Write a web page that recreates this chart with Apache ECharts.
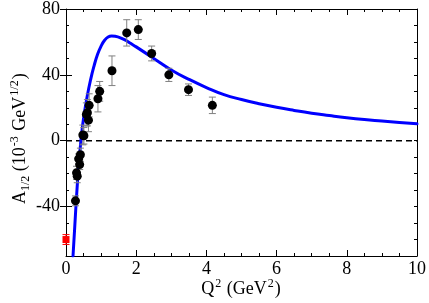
<!DOCTYPE html>
<html>
<head>
<meta charset="utf-8">
<script src="https://cdn.jsdelivr.net/npm/echarts@6/dist/echarts.min.js"></script>
<style>html,body{margin:0;padding:0;background:#fff}#c{width:429px;height:303px}</style>
</head>
<body>
<div id="c"></div>
<script>
// Data (Q^2 in GeV^2, A_1/2 in 10^-3 GeV^1/2)
const dataQ2 = [0.27,0.30,0.32,0.36,0.39,0.41,0.48,0.51,0.58,0.61,0.64,0.66,0.91,0.96,1.31,1.73,2.06,2.44,2.93,3.49,4.17];
const dataA  = [-36.5,-19.5,-21.5,-11,-14.5,-8.5,3.5,3,16,17,12.5,21.5,25.5,30,42.5,65.5,67.5,53,40,31,21.5];
const dataErr= [3,4,4,3,3,4,6,5,7,8,7,7,8,6,9,8,6,4.5,4,3.5,5];
const photoQ2 = [0];
const photoA  = [-60];
const photoErr= [3];
const curveQ2 = [0.20,0.25,0.30,0.35,0.40,0.45,0.50,0.60,0.70,0.80,0.90,1.00,1.10,1.20,1.30,1.40,1.55,1.70,1.85,2.00,2.50,3.00,3.50,4.00,4.50,5.00,5.50,6.00,6.50,7.00,7.50,8.00,8.50,9.00,9.50,10.0];
const curveA  = [-70,-52,-34,-18.5,-5.5,5,13.5,26.5,37,45.5,52.5,57.5,61,63,63.6,63.4,62.5,61,59,57,50,43,37.3,32.3,28,25,22.5,20.3,18.4,16.7,15.3,14,12.9,12,11.1,10.3];
const xTicks = [0,2,4,6,8,10];
const yTicks = [-40,0,40,80];

const font = 'Liberation Serif';
const chart = echarts.init(document.getElementById('c'), null, {renderer:'canvas'});

function errItem(color, capHalf){
  return function(params, api){
    const x = api.value(0), y = api.value(1), e = api.value(2);
    const p1 = api.coord([x, y+e]), p2 = api.coord([x, y-e]);
    const st = {stroke: color, lineWidth: 1};
    return {type:'group', children:[
      {type:'line', shape:{x1:p1[0],y1:p1[1],x2:p2[0],y2:p2[1]}, style:st},
      {type:'line', shape:{x1:p1[0]-capHalf,y1:p1[1],x2:p1[0]+capHalf,y2:p1[1]}, style:st},
      {type:'line', shape:{x1:p2[0]-capHalf,y1:p2[1],x2:p2[0]+capHalf,y2:p2[1]}, style:st}
    ]};
  };
}

const axisCommon = {
  axisLine:{show:true, onZero:false, lineStyle:{color:'#000', width:1}},
  splitLine:{show:false}
};

chart.setOption({
  animation:false,
  grid:{left:66, right:11, top:7, bottom:47, containLabel:false},
  xAxis:[
    Object.assign({}, axisCommon, {
      type:'value', min:0, max:10, interval:2, position:'bottom',
      axisTick:{inside:true, length:6, lineStyle:{color:'#000'}},
      minorTick:{show:true, splitNumber:4, length:3, lineStyle:{color:'#000'}},
      axisLabel:{color:'#000', fontFamily:font, fontSize:18, margin:4, customValues: xTicks}
    }),
    Object.assign({}, axisCommon, {
      type:'value', min:0, max:10, interval:2, position:'top',
      axisTick:{inside:true, length:6, lineStyle:{color:'#000'}},
      minorTick:{show:true, splitNumber:4, length:3, lineStyle:{color:'#000'}},
      axisLabel:{show:false}
    })
  ],
  yAxis:[
    Object.assign({}, axisCommon, {
      type:'value', min:-70, max:80, interval:10, position:'left',
      axisTick:{inside:true, length:3, lineStyle:{color:'#000'}},
      axisLabel:{color:'#000', fontFamily:font, fontSize:18, margin:6, customValues: yTicks}
    }),
    Object.assign({}, axisCommon, {
      type:'value', min:-70, max:80, interval:10, position:'right',
      axisTick:{inside:true, length:3, lineStyle:{color:'#000'}},
      axisLabel:{show:false}
    }),
    {
      type:'value', min:-70, max:80, position:'left', axisLine:{show:false}, splitLine:{show:false},
      axisTick:{show:true, inside:true, length:6, customValues: yTicks, lineStyle:{color:'#000'}},
      axisLabel:{show:false}
    },
    {
      type:'value', min:-70, max:80, position:'right', axisLine:{show:false}, splitLine:{show:false},
      axisTick:{show:true, inside:true, length:6, customValues: yTicks, lineStyle:{color:'#000'}},
      axisLabel:{show:false}
    }
  ],
  graphic:[
    {type:'text', x:241, y:278, style:{
      text:'{a|Q}{s|2}{a| (GeV}{s|2}{a|)}', fill:'#000', textAlign:'center',
      rich:{a:{fontFamily:font, fontSize:18, verticalAlign:'bottom', fill:'#000'},
            s:{fontFamily:font, fontSize:12, verticalAlign:'bottom', padding:[0,1,8,1], fill:'#000'}}
    }},
    {type:'text', x:9, y:204, rotation:Math.PI/2, style:{
      text:'{a|A}{b|1/2}{a| (10}{s|-3}{a| GeV}{s|1/2}{a|)}', fill:'#000',
      rich:{a:{fontFamily:font, fontSize:18, verticalAlign:'bottom', fill:'#000'},
            b:{fontFamily:font, fontSize:12, verticalAlign:'bottom', padding:[0,0,-3,0], fill:'#000'},
            s:{fontFamily:font, fontSize:12, verticalAlign:'bottom', padding:[0,1,8,1], fill:'#000'}}
    }}
  ],
  series:[
    {
      type:'line', xAxisIndex:0, yAxisIndex:0, data:[[0,0],[10,0]], symbol:'none', silent:true,
      lineStyle:{color:'#000', width:1.5, type:[6,4]}, z:1
    },
    {
      type:'line', xAxisIndex:0, yAxisIndex:0, smooth:0.5, symbol:'none', clip:true,
      data: curveQ2.map((x,i)=>[x, curveA[i]]),
      lineStyle:{color:'#0000ff', width:3, cap:'round', join:'round'}, z:3
    },
    {
      type:'custom', xAxisIndex:0, yAxisIndex:0, renderItem: errItem('#808080', 3.5),
      data: dataQ2.map((x,i)=>[x, dataA[i], dataErr[i]]), z:4
    },
    {
      type:'scatter', xAxisIndex:0, yAxisIndex:0, symbol:'circle', symbolSize:9,
      itemStyle:{color:'#000', opacity:1}, data: dataQ2.map((x,i)=>[x, dataA[i]]), z:5
    },
    {
      type:'custom', xAxisIndex:0, yAxisIndex:0, renderItem: errItem('#ff0000', 3.5),
      data: photoQ2.map((x,i)=>[x, photoA[i], photoErr[i]]), z:4
    },
    {
      type:'scatter', xAxisIndex:0, yAxisIndex:0, symbol:'rect', symbolSize:7,
      itemStyle:{color:'#ff0000', opacity:1}, data: photoQ2.map((x,i)=>[x, photoA[i]]), z:5
    }
  ]
});
</script>
</body>
</html>
